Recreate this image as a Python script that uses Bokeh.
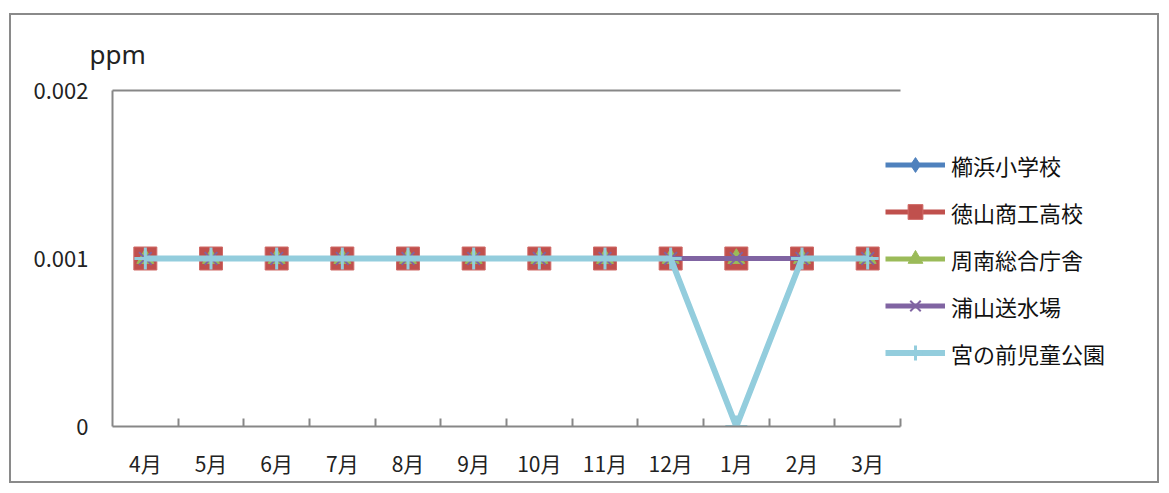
from bokeh.plotting import figure
from bokeh.models import FixedTicker, Legend, LegendItem, Title, LinearAxis, Spacer
from bokeh.layouts import column, row
from bokeh.embed import file_html
from bokeh.resources import INLINE

months = ["4月", "5月", "6月", "7月", "8月", "9月", "10月", "11月", "12月", "1月", "2月", "3月"]
s_kushihama = [0.001] * 12
s_tokuyama = [0.001] * 12
s_shunan = [0.001] * 12
s_urayama = [0.001] * 12
s_miyanomae = [0.001, 0.001, 0.001, 0.001, 0.001, 0.001, 0.001, 0.001, 0.001, 0.0, 0.001, 0.001]
names = ["櫛浜小学校", "徳山商工高校", "周南総合庁舎", "浦山送水場", "宮の前児童公園"]
y_ticks = [0, 0.001, 0.002]
y_labels = ["0", "0.001", "0.002"]

n = len(months)
xs = [i + 0.5 for i in range(n)]
FONT = "Noto Sans CJK JP"
GRAY = "#878787"

# the plotting area (785px for the 12 months) is widened to hold the legend
FRAME_W = 1045
AXIS_W = 785
x_end = n * FRAME_W / AXIS_W

p = figure(width=1150, height=470, x_range=(0, x_end), y_range=(0, 0.002),
           output_backend="svg", toolbar_location=None,
           min_border_left=101, min_border_top=71, min_border_right=0, min_border_bottom=59)
p.styles = {"border": "2px solid #8a8a8a", "box-sizing": "border-box"}
p.outline_line_color = None
p.grid.visible = False
p.background_fill_color = "white"

xa = p.xaxis[0]
xa.bounds = (0, n)
xa.ticker = FixedTicker(ticks=xs, minor_ticks=list(range(1, n + 1)))
xa.major_label_overrides = {x: m for x, m in zip(xs, months)}
xa.major_tick_in = 0
xa.major_tick_out = 0
xa.minor_tick_in = 8
xa.minor_tick_out = 0
xa.minor_tick_line_color = GRAY
xa.minor_tick_line_width = 2
xa.axis_line_color = GRAY
xa.axis_line_width = 2
xa.major_label_standoff = 21
xa.major_label_text_font = FONT
xa.major_label_text_font_size = "21px"
xa.major_label_text_color = "#222222"

top = LinearAxis(bounds=(0, n), ticker=FixedTicker(ticks=[]), axis_line_color=GRAY,
                 axis_line_width=2, major_tick_in=0, major_tick_out=0,
                 minor_tick_in=0, minor_tick_out=0, major_label_text_font_size="0px")
p.add_layout(top, "above")

ya = p.yaxis[0]
ya.ticker = FixedTicker(ticks=y_ticks)
ya.major_label_overrides = {t: l for t, l in zip(y_ticks, y_labels)}
ya.major_tick_in = 0
ya.major_tick_out = 0
ya.minor_tick_in = 0
ya.minor_tick_out = 0
ya.axis_line_color = GRAY
ya.axis_line_width = 2
ya.major_label_standoff = 24
ya.major_label_text_font = FONT
ya.major_label_text_font_size = "22px"
ya.major_label_text_color = "#222222"

items = []
l1 = p.line(xs, s_kushihama, line_color="#4F81BD", line_width=5)
m1 = p.scatter(xs, s_kushihama, marker="diamond", size=20, fill_color="#4F81BD", line_color="#4F81BD")
items.append(LegendItem(label=names[0], renderers=[l1, m1]))
l2 = p.line(xs, s_tokuyama, line_color="#C0504D", line_width=5)
m2 = p.scatter(xs, s_tokuyama, marker="square", size=23, fill_color="#C0504D", line_color="#D06A67")
items.append(LegendItem(label=names[1], renderers=[l2, m2]))
l3 = p.line(xs, s_shunan, line_color="#9BBB59", line_width=5)
m3 = p.scatter(xs, s_shunan, marker="triangle", size=17, fill_color="#9BBB59", line_color="#9BBB59")
items.append(LegendItem(label=names[2], renderers=[l3, m3]))
l4 = p.line(xs, s_urayama, line_color="#8064A2", line_width=5)
m4 = p.scatter(xs, s_urayama, marker="x", size=18, line_color="#8064A2", line_width=2)
items.append(LegendItem(label=names[3], renderers=[l4, m4]))
l5 = p.line(xs, s_miyanomae, line_color="#93CDDD", line_width=6)
m5 = p.scatter(xs, s_miyanomae, marker="cross", size=22, line_color="#93CDDD", line_width=3)
items.append(LegendItem(label=names[4], renderers=[l5, m5]))

legend = Legend(items=items, location=(773, 55), orientation="vertical",
                glyph_width=60, glyph_height=37, label_height=37, spacing=10,
                label_standoff=6, padding=0, margin=0,
                border_line_color=None, background_fill_alpha=0,
                label_text_font=FONT, label_text_font_size="22px", label_text_color="#111111")
p.add_layout(legend)

p.add_layout(Title(text="ppm", align="left", offset=-23, standoff=37,
                   text_font="Noto Sans", text_font_size="26px", text_font_style="normal",
                   text_color="#222222"), "above")

layout = column(Spacer(height=13), row(Spacer(width=9), p))
open("out.html", "w").write(file_html(layout, INLINE))
